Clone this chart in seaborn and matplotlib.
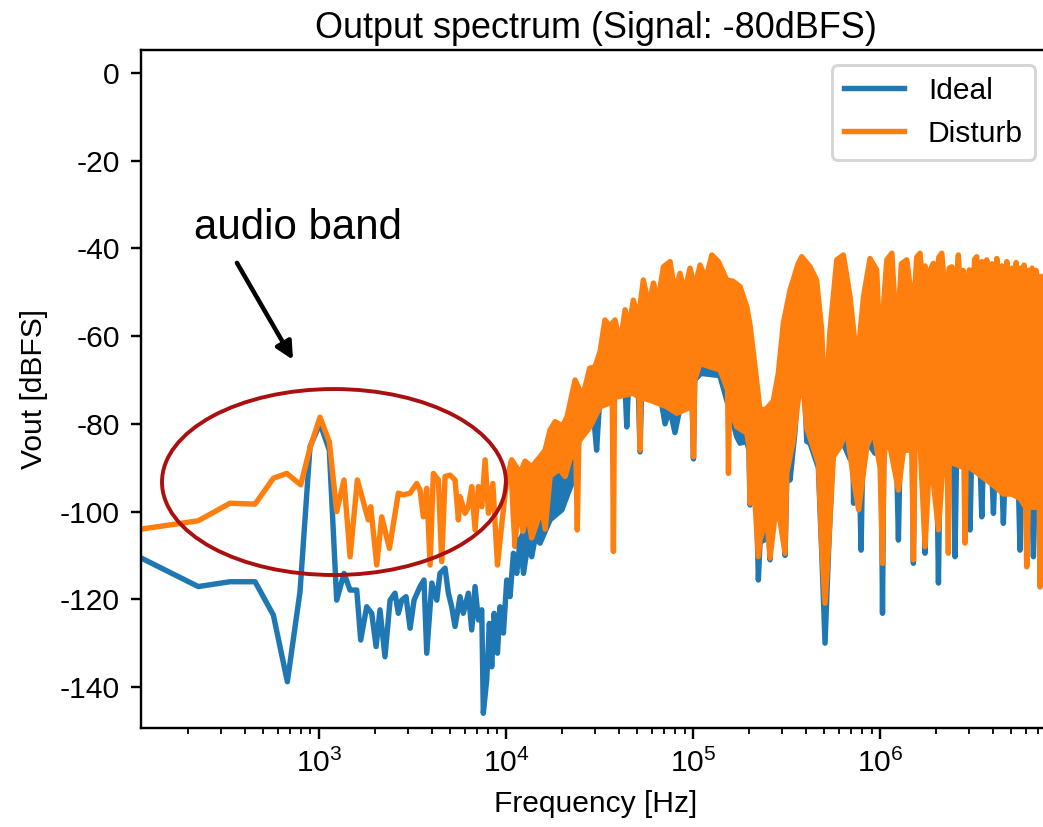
import numpy as np
import matplotlib
matplotlib.use("Agg")
import matplotlib.pyplot as plt
from matplotlib.patches import Ellipse
import seaborn as sns

# ---------------- data ----------------
# Ideal: low-frequency trace
ideal_line_hz = [112, 226, 334, 455, 570, 677, 791, 895, 1012, 1135,
                 1243, 1360, 1465, 1591, 1670, 1798, 1913, 2019, 2118, 2252,
                 2398, 2548, 2655, 2768, 2919, 3069, 3222, 3467, 3640, 3766,
                 4011, 4263, 4432, 4720, 4915, 5120, 5338, 5676, 5906, 6288,
                 6554, 6828, 7115, 7413, 7558, 7880, 8140, 8385, 8637, 8996,
                 9286, 9680, 10086, 10503, 10950, 11406, 11880]
ideal_line_db = [-110.6, -117.1, -116.0, -116.0, -123.6, -138.8, -118.3, -85.2, -79.9, -86.0,
                 -120.2, -114.1, -117.9, -117.9, -129.3, -121.7, -123.2, -130.8, -122.4, -133.1,
                 -120.2, -118.6, -123.2, -120.2, -119.4, -126.6, -120.2, -117.1, -115.6, -132.3,
                 -116.3, -120.2, -114.1, -112.9, -118.6, -121.7, -126.2, -119.4, -123.2, -118.6,
                 -127.0, -117.1, -124.7, -122.4, -146.0, -138.4, -125.5, -135.4, -123.2, -132.3,
                 -121.7, -127.7, -115.6, -119.4, -109.5, -114.1, -106.5]

# Ideal: dense high-frequency region, upper and lower envelopes
ideal_top_hz = [11880, 12640, 13720, 15200, 17190, 19450, 21990, 25000, 30000, 35000,
                45000, 60000, 80000, 110000, 140000, 180000, 200000, 220000, 260000, 300000,
                350000, 420000, 470000, 507690, 540000, 620000, 700000, 760000, 820000, 900000,
                1000000, 1090000, 1228000, 1400000, 8100000]
ideal_top_db = [-106.5, -104.0, -100.0, -97.0, -92.0, -90.0, -86.0, -82.0, -76.0, -70.0,
                -66.0, -62.0, -60.0, -60.0, -60.0, -62.0, -70.0, -85.0, -85.0, -70.0,
                -60.0, -58.0, -65.0, -88.0, -70.0, -58.0, -62.0, -75.0, -62.0, -56.0,
                -72.0, -56.0, -68.0, -62.0, -62.0]

ideal_bot_hz = [11880, 12400, 13000, 13720, 14300, 15200, 17190, 19900, 21450, 22900,
                24500, 27000, 29500, 30500, 31500, 33800, 40000, 43500, 44200, 45000,
                51000, 52060, 53000, 58000, 68000, 70800, 75000, 80000, 85000, 99000,
                100500, 102000, 110000, 139000, 150000, 171400, 178290,
                193700, 199000, 201650, 205000, 218000, 223400, 228000, 240000, 247600, 252000,
                257950, 264000, 280600, 300000, 310270, 318000, 329960, 350000, 372000, 380000,
                390000, 405400, 422080, 467600, 487100, 507690, 529000, 560000, 600000, 690650,
                715000, 721400, 730000, 775000, 791300, 805000, 850400, 939550, 1010000, 1030000,
                1050000, 1210000, 1253000, 1290000, 1480000, 1507000, 1535000, 1700000, 1739000, 1780000,
                2000000, 2051000, 2100000, 2460000, 2516000, 2570000, 2960000, 3026000, 3090000, 3420000,
                3497000, 3570000, 3950000, 4037000, 4120000, 4470000, 4562000, 4650000, 5480000, 5600000,
                5720000, 6460000, 6604000, 6750000, 8100000]
ideal_bot_db = [-106.5, -114.1, -108.0, -110.3, -106.0, -107.2, -101.9, -99.6, -95.8, -92.8,
                -84.0, -80.0, -79.0, -86.0, -76.0, -75.0, -73.5, -73.5, -80.7, -72.5,
                -73.0, -86.4, -73.5, -74.0, -75.5, -80.0, -76.5, -82.0, -76.5, -75.5,
                -88.0, -70.0, -68.5, -69.0, -74.0, -83.0, -84.4,
                -84.0, -86.0, -98.5, -92.0, -96.0, -115.6, -107.0, -106.5, -104.2, -100.0,
                -111.0, -96.0, -100.0, -95.0, -110.0, -90.0, -92.8, -82.1, -66.0, -70.8,
                -66.0, -84.0, -84.4, -90.0, -109.0, -130.0, -110.0, -86.0, -82.0, -88.0,
                -85.0, -98.1, -88.0, -92.0, -108.8, -90.0, -84.0, -86.7, -78.0, -123.2,
                -78.0, -78.0, -106.5, -78.0, -80.0, -111.8, -80.0, -82.0, -109.5, -82.0,
                -82.0, -116.3, -82.0, -84.0, -110.3, -84.0, -86.0, -104.2, -86.0, -88.0,
                -101.2, -88.0, -90.0, -100.4, -90.0, -92.0, -102.7, -92.0, -93.0, -108.8,
                -93.0, -95.0, -110.3, -95.0, -95.0]

# Disturb: low-frequency trace
disturb_line_hz = [112, 226, 334, 455, 570, 672, 798, 895, 1012, 1135,
                   1243, 1360, 1465, 1603, 1835, 1890, 2035, 2163, 2379, 2655,
                   2826, 3069, 3330, 3467, 3612, 3766, 3925, 4087, 4346, 4530,
                   4720, 5020, 5338, 5561, 5676, 6036, 6288, 6554, 6828, 7115,
                   7413, 7726, 8049, 8498, 8996, 9494, 10086, 10603]
disturb_line_db = [-104.0, -102.1, -98.1, -98.3, -92.4, -91.3, -93.9, -85.5, -78.5, -84.1,
                   -100.0, -92.8, -110.3, -92.8, -101.9, -98.9, -112.2, -101.2, -108.4, -95.8,
                   -96.2, -95.8, -93.6, -95.1, -101.2, -94.7, -112.2, -91.3, -92.8, -111.4,
                   -92.0, -91.7, -92.8, -101.9, -96.6, -100.4, -98.9, -94.3, -104.2, -94.3,
                   -98.9, -88.2, -100.4, -93.6, -112.2, -102.7, -92.8, -89.0]

# Disturb: dense high-frequency region, upper and lower envelopes
disturb_top_hz = [10603, 10720, 11880, 12640, 13720, 15200, 16170, 17190, 18290, 20000,
                  21200, 23390, 25700, 28000, 29900, 31820, 33800, 35800, 38270, 40700,
                  43280, 45500, 47900, 51000, 54200, 58000, 61400, 65000, 69400, 75320,
                  80000, 85180, 90000, 96340, 102000, 108960, 117000, 126000, 136600,
                  151300, 163600, 178290, 193700, 201650, 214450, 228070, 247600, 268400, 285600,
                  303800, 329960, 364600, 380900, 422080, 457400, 487100, 507690, 539920, 586600,
                  636300, 690650, 753600, 815400, 883460, 959400, 999200, 1086000, 1156000, 1228000,
                  1300000, 1389000, 1507000, 1570000, 1635000, 1700000, 1740000, 1778000, 1850000, 1928000,
                  2000000, 2060000, 2137000, 2274000, 2340000, 2418000, 2520000, 2622000, 2700000, 2780000,
                  2910000, 3000000, 3107000, 3200000, 3288000, 3400000, 3508000, 3620000, 3717000, 3850000,
                  3969000, 4090000, 4210000, 4350000, 4490000, 4620000, 4762000, 4920000, 5082000, 5210000,
                  5338000, 5470000, 5600000, 5740000, 5888000, 6040000, 6186000, 6340000, 6497000, 6660000,
                  6825000, 7000000, 7164000, 7400000, 7600000, 8100000]
disturb_top_db = [-89.0, -88.2, -91.2, -88.5, -89.8, -87.5, -86.0, -81.4, -79.5, -80.5,
                  -78.4, -70.0, -73.8, -67.3, -67.0, -63.5, -56.3, -57.8, -56.3, -62.0,
                  -54.0, -58.0, -51.8, -56.0, -47.2, -53.0, -47.9, -52.0, -44.2, -43.0,
                  -50.0, -45.7, -50.0, -44.5, -49.0, -43.8, -47.0, -41.5, -43.0,
                  -47.2, -47.5, -48.7, -53.3, -57.5, -67.0, -77.0, -76.5, -74.8, -68.5,
                  -57.1, -49.5, -43.5, -41.9, -44.2, -47.2, -58.6, -77.6, -58.6, -42.6,
                  -41.5, -51.0, -66.2, -51.0, -42.3, -44.9, -63.9, -42.6, -41.1, -60.9,
                  -43.5, -42.6, -54.8, -42.0, -41.1, -50.0, -44.0, -58.6, -45.0, -43.4,
                  -52.0, -42.0, -41.1, -54.7, -44.5, -44.2, -50.0, -41.5, -52.0, -45.0,
                  -54.0, -44.9, -55.0, -42.5, -41.9, -53.0, -43.0, -50.0, -42.6, -54.0,
                  -43.5, -52.0, -42.3, -55.0, -44.0, -53.0, -43.0, -56.0, -44.5, -53.0,
                  -43.2, -56.0, -44.5, -54.0, -43.8, -57.0, -45.0, -55.0, -44.5, -57.0,
                  -45.0, -56.0, -46.4, -57.0, -46.0, -46.4]

disturb_bot_hz = [10603, 10900, 11170, 11600, 12300, 13000, 13700, 14500, 15500, 16200,
                  17190, 18290, 19450, 20690, 21990, 23600, 24040, 24500, 28130, 31820,
                  37000, 37500, 38000, 47900, 51500, 52000, 52500, 58880, 72300, 81900,
                  99000, 100500, 102000, 108960, 123240, 139380, 153000, 154600, 156500, 171400,
                  193700, 199000, 201650, 204000, 209700, 223400, 228070, 247600, 257950, 280600,
                  310270, 316800, 343900, 380000, 405400, 431300, 467600, 487100, 507690, 529000,
                  562600, 610650, 663800, 721400, 767900, 850400, 921100, 1000000, 1030000, 1050000,
                  1086000, 1253000, 1334000, 1480000, 1507000, 1535000, 1635000, 1739000, 1849000, 2051000,
                  2178000, 2290000, 2316000, 2340000, 2464000, 2810000, 2845000, 2880000, 3026000, 3497000,
                  4037000, 4562000, 5058000, 5600000, 6000000, 6085000, 6200000, 6604000, 7100000, 7164000,
                  7250000, 8100000]
disturb_bot_db = [-89.0, -100.0, -108.0, -98.0, -104.5, -100.0, -106.0, -103.0, -99.0, -104.0,
                  -92.0, -91.0, -90.5, -92.0, -88.0, -86.0, -104.2, -84.0, -80.7, -76.1,
                  -75.0, -109.1, -74.0, -73.0, -74.0, -86.0, -74.0, -74.6, -76.1, -77.6,
                  -76.0, -87.5, -70.0, -66.2, -67.0, -67.7, -72.3, -91.3, -76.0, -80.7,
                  -82.1, -85.0, -98.1, -88.0, -91.3, -110.3, -106.5, -101.2, -110.6, -97.4,
                  -109.5, -91.3, -83.7, -68.0, -81.0, -84.4, -89.0, -108.0, -120.9, -108.5,
                  -87.5, -85.2, -81.4, -92.8, -99.6, -85.0, -81.4, -90.0, -111.8, -88.0,
                  -81.4, -95.1, -86.0, -86.0, -111.0, -86.0, -84.0, -108.0, -86.0, -104.2,
                  -88.0, -89.0, -109.5, -89.0, -89.0, -90.0, -107.2, -90.0, -90.0, -92.0,
                  -94.0, -96.0, -96.0, -97.0, -99.0, -112.6, -99.0, -99.0, -99.0, -117.2,
                  -99.0, -99.0]

series_names = ["Ideal", "Disturb"]
series_colors = ["#1f77b4", "#ff7f0e"]

# ---------------- style ----------------
plt.rcParams["font.family"] = ["Liberation Sans", "DejaVu Sans"]
plt.rcParams["mathtext.fontset"] = "custom"
plt.rcParams["mathtext.rm"] = "Liberation Sans"
plt.rcParams["mathtext.it"] = "Liberation Sans:italic"
plt.rcParams["font.size"] = 10
plt.rcParams["axes.unicode_minus"] = False

DPI = 216
fig = plt.figure(figsize=(1043 / DPI, 827 / DPI), dpi=DPI)
ax = fig.add_axes([141 / 1043, 99 / 827, 909 / 1043, 678 / 827])

lw = 1.8
groups = [
    (ideal_line_hz, ideal_line_db, ideal_top_hz, ideal_top_db, ideal_bot_hz, ideal_bot_db),
    (disturb_line_hz, disturb_line_db, disturb_top_hz, disturb_top_db, disturb_bot_hz, disturb_bot_db),
]
for name, color, (lhz, ldb, thz, tdb, bhz, bdb) in zip(series_names, series_colors, groups):
    sns.lineplot(x=lhz, y=ldb, ax=ax, color=color, lw=lw, label=name,
                 estimator=None, sort=False)
    poly_x = np.concatenate([np.asarray(thz, float), np.asarray(bhz, float)[::-1]])
    poly_y = np.concatenate([np.asarray(tdb, float), np.asarray(bdb, float)[::-1]])
    ax.fill(poly_x, poly_y, facecolor=color, edgecolor=color, lw=lw, joinstyle="round")

ax.set_xscale("log")
ax.set_xlim(111.7, 8.1e6)
ax.set_ylim(-149.35, 5.24)
ax.set_title("Output spectrum (Signal: -80dBFS)", pad=4)
ax.set_xlabel("Frequency [Hz]")
ax.set_ylabel("Vout [dBFS]")
leg = ax.legend(loc="upper right")
for h in leg.get_lines():
    h.set_linewidth(1.8)

# annotation
ax.text(773, -35.3, "audio band", fontsize=14, ha="center", va="center")
ax.annotate("", xy=(726, -65.4), xytext=(364, -43.3),
            arrowprops=dict(arrowstyle="-|>", lw=1.5, color="black",
                            shrinkA=0, shrinkB=0, mutation_scale=12))
ax.add_patch(Ellipse((0.2123, 0.3628), 0.3784, 0.2743, transform=ax.transAxes,
                     fill=False, edgecolor="#aa1010", lw=1.3, zorder=5))

fig.savefig("out.png", dpi=DPI)
